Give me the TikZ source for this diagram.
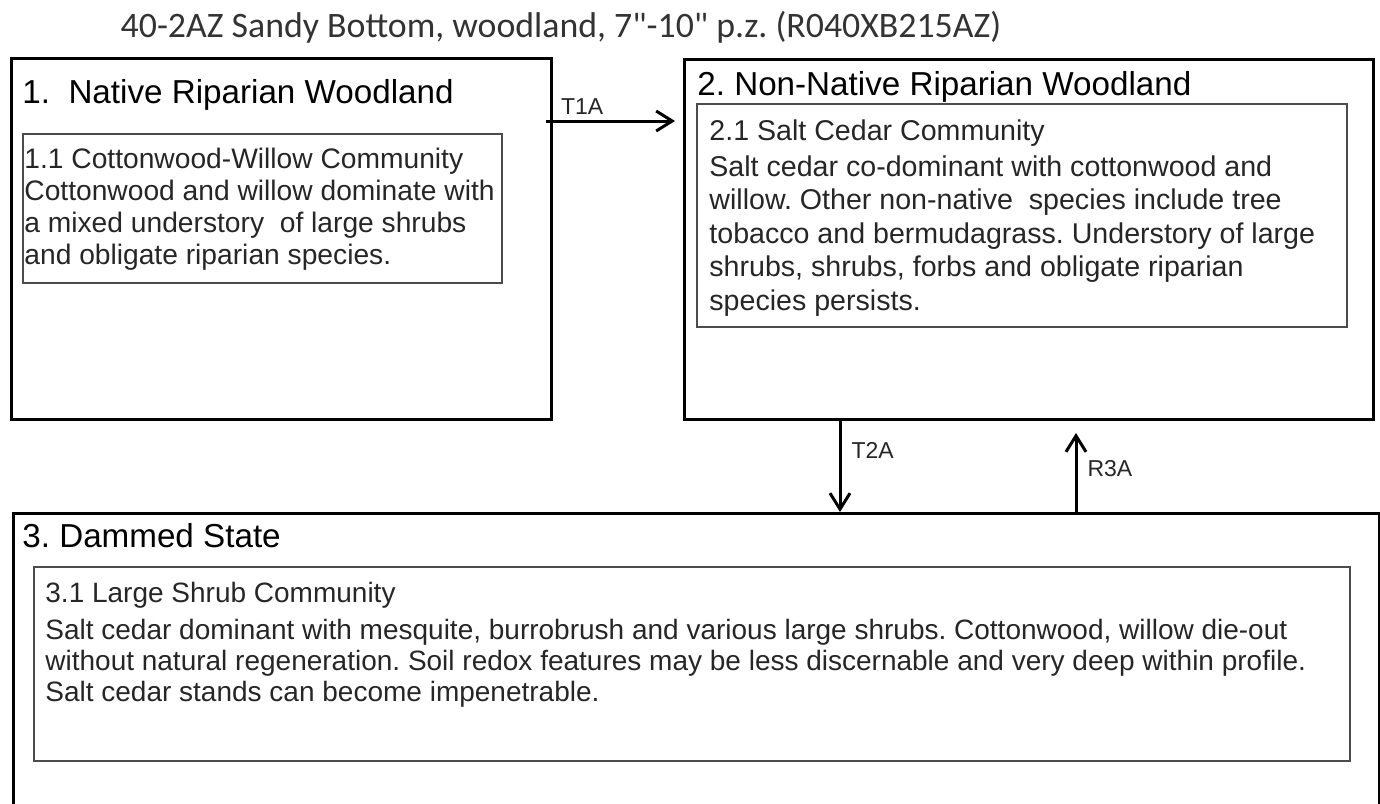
\documentclass[tikz,border=0pt]{standalone}
\usepackage{fontspec}
\setmainfont{Liberation Sans}
\newfontfamily\titlefont{Carlito}
\usetikzlibrary{arrows.meta}
\frenchspacing

\begin{document}
\begin{tikzpicture}[x=0.5pt, y=-0.5pt,
    stmBoxS/.style={draw, line width=1.5pt, anchor=north west, inner sep=0pt},
    stmInnerS/.style={draw=black!70, line width=1pt, anchor=north west, inner sep=0pt},
    stmHeadS/.style={anchor=base west, inner sep=0pt, font=\fontsize{16.6}{19}\selectfont},
    stmTextS/.style={anchor=base west, inner sep=0pt, align=left, text=black!85},
    stmArrS/.style={-{Straight Barb[length=8pt,width=10pt]}, line width=1.5pt},
    stmLblS/.style={font=\fontsize{11.5}{13}\selectfont, text=black!85, inner sep=1pt},
]
\useasboundingbox (0,0) rectangle (1380,803);
\clip (0,0) rectangle (1380,803);
% Title
\node[font=\titlefont\fontsize{17.9}{20}\selectfont, text=black!80] (title) at (561,27)
  {40-2AZ Sandy Bottom, woodland, 7"-10" p.z. (R040XB215AZ)};
% State 1
\node[stmBoxS, minimum width=270pt, minimum height=180.5pt] (s1) at (10,57) {};
\node[stmHeadS] (h1) at (22,103) {1.\ \ Native Riparian Woodland};
\node[stmInnerS, minimum width=239.5pt, minimum height=74.5pt] (c1) at (22,133) {};
% (base of a multi-line node = its last line)
\node[stmTextS, font=\fontsize{14.1}{16}\selectfont] (t1) at (24,264)
  {1.1 Cottonwood-Willow Community\\
   Cottonwood and willow dominate with\\
   a mixed understory\ \ of large shrubs\\
   and obligate riparian species.};
% State 2
\node[stmBoxS, minimum width=344.5pt, minimum height=180pt] (s2) at (683,58) {};
\node[stmHeadS] (h2) at (697,95) {2. Non-Native Riparian Woodland};
\node[stmInnerS, minimum width=325pt, minimum height=111.5pt] (c2) at (696,103) {};
\node[stmTextS, font=\fontsize{14.3}{16.75}\selectfont] (t2) at (709,310)
  {2.1 Salt Cedar Community\\[1.25pt]
   Salt cedar co-dominant with cottonwood and\\
   willow. Other non-native\ \ species include tree\\
   tobacco and bermudagrass. Understory of large\\
   shrubs, shrubs, forbs and obligate riparian\\
   species persists.};
% State 3
\node[stmBoxS, minimum width=683pt, minimum height=170pt] (s3) at (12,512) {};
\node[stmHeadS] (h3) at (22,547) {3. Dammed State};
\node[stmInnerS, minimum width=658pt, minimum height=97pt] (c3) at (33,566) {};
\node[stmTextS, font=\fontsize{14}{15.5}\selectfont] (t3) at (45,701)
  {3.1 Large Shrub Community\\[3pt]
   Salt cedar dominant with mesquite, burrobrush and various large shrubs. Cottonwood, willow die-out\\
   without natural regeneration. Soil redox features may be less discernable and very deep within profile.\\
   Salt cedar stands can become impenetrable.};
% Transitions
\draw[stmArrS] ([shift={(-7,64)}]s1.north east) -- ([shift={(-8,63)}]s2.north west)
  node[stmLblS, pos=0.28, above=1.5pt] (l1) {T1A};
\draw[stmArrS] ([xshift=78.5pt]s2.south west) -- ([xshift=414pt]s3.north west)
  node[stmLblS, pos=0.32, right=4pt] (l2) {T2A};
\coordinate (r3end) at ([shift={(393,12)}]s2.south west);
\draw[stmArrS] ([xshift=532pt]s3.north west) -- (r3end)
  node[stmLblS, pos=0.55, right=4pt] (l3) {R3A};
\end{tikzpicture}
\end{document}
